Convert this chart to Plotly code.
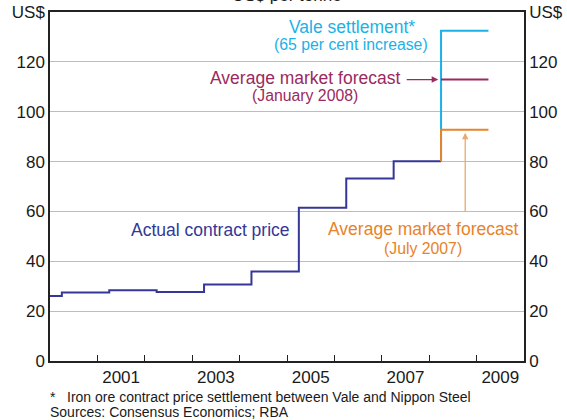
import plotly.graph_objects as go

# contract years start in April (decimal years), prices in US$ per tonne
contract_start = [2000.0, 2000.25, 2001.25, 2002.25, 2003.25, 2004.25, 2005.25, 2006.25, 2007.25, 2008.25]
contract_price = [26.1, 27.5, 28.4, 27.7, 30.7, 35.9, 61.5, 73.2, 80.1, 80.1]

settle_x = [2008.25, 2008.25, 2009.25]
vale_settlement = [80.1, 132.5, 132.5]
forecast_jul07 = [80.1, 92.8, 92.8]
forecast_x = [2008.25, 2009.25]
forecast_jan08 = [112.9, 112.9]

year_labels = [2001, 2003, 2005, 2007, 2009]
year_ticks = list(range(2001, 2010))
y_ticks = [0, 20, 40, 60, 80, 100, 120, 140]
y_text = ["0", "20", "40", "60", "80", "100", "120", "US$"]

BLUE = "#343797"
CYAN = "#1BB1E7"
PURPLE = "#9A2A60"
ORANGE = "#E8832A"
FONT = "Liberation Sans, Arial, sans-serif"
TXT = "#1a1a1a"

fig = go.Figure()

fig.add_trace(go.Scatter(x=contract_start, y=contract_price, mode="lines", line_shape="hv",
                         line=dict(color=BLUE, width=2), showlegend=False, hoverinfo="skip"))
fig.add_trace(go.Scatter(x=settle_x, y=vale_settlement, mode="lines",
                         line=dict(color=CYAN, width=2), showlegend=False, hoverinfo="skip"))
fig.add_trace(go.Scatter(x=forecast_x, y=forecast_jan08, mode="lines",
                         line=dict(color=PURPLE, width=2), showlegend=False, hoverinfo="skip"))
# orange on the right-hand axis so it sits on top of the cyan riser
fig.add_trace(go.Scatter(x=settle_x, y=forecast_jul07, mode="lines", yaxis="y2",
                         line=dict(color=ORANGE, width=2), showlegend=False, hoverinfo="skip"))

fig.update_layout(
    width=567, height=420,
    margin=dict(l=50, r=43, t=12, b=59),
    paper_bgcolor="white", plot_bgcolor="white",
    font=dict(family=FONT, size=17, color=TXT),
    xaxis=dict(range=[2000, 2010], tickvals=[y + 0.5 for y in year_labels],
               ticktext=[str(y) for y in year_labels], ticks="", showgrid=False, automargin=False,
               showline=True, linecolor="#222", linewidth=1.5, mirror=True, zeroline=False,
               minor=dict(tickvals=year_ticks, ticks="inside", ticklen=6, tickwidth=1,
                          tickcolor="#222", showgrid=False)),
    yaxis=dict(range=[0, 140], tickvals=y_ticks, ticktext=y_text, ticks="", automargin=False,
               showgrid=True, gridcolor="#BDBDBD", gridwidth=1, zeroline=False,
               showline=True, linecolor="#222", linewidth=1.5),
    yaxis2=dict(range=[0, 140], overlaying="y", side="right", tickvals=y_ticks, ticktext=y_text,
                ticks="", showgrid=False, zeroline=False, automargin=False,
                showline=True, linecolor="#222", linewidth=1.5),
)

def label(x, y, text, color, size=17.5):
    fig.add_annotation(x=x, y=y, xref="x", yref="y", text=text, showarrow=False,
                       font=dict(family=FONT, size=size, color=color),
                       xanchor="center", yanchor="middle", borderpad=0)

label(2006.37, 133.8, "Vale settlement*", CYAN)
label(2006.36, 127.0, "(65 per cent increase)", CYAN, 15.8)
label(2005.38, 113.6, "Average market forecast", PURPLE)
label(2005.38, 106.7, "(January 2008)", PURPLE, 15.8)
label(2003.38, 52.7, "Actual contract price", BLUE)
label(2007.87, 52.9, "Average market forecast", ORANGE)
label(2007.87, 45.3, "(July 2007)", ORANGE, 15.8)

# arrows
fig.add_annotation(x=2008.19, y=112.9, xref="x", yref="y", text="", showarrow=True,
                   ax=-33, ay=0, arrowhead=2, arrowsize=1, arrowwidth=1.3, arrowcolor=PURPLE)
fig.add_annotation(x=2008.76, y=91.6, xref="x", yref="y", text="", showarrow=True,
                   ax=0, ay=80, arrowhead=2, arrowsize=1, arrowwidth=1.3, arrowcolor="#EBA870")

# unit title, clipped at the top of the page
fig.add_annotation(x=0.5, y=1.0487, xref="paper", yref="paper", text="US$ per tonne",
                   showarrow=False, font=dict(family=FONT, size=17, color=TXT),
                   xanchor="center", yanchor="middle")

# footnotes
fig.add_annotation(x=-0.004, y=-0.103, xref="paper", yref="paper", text="*", showarrow=False,
                   font=dict(family=FONT, size=14, color=TXT), xanchor="left", yanchor="middle")
fig.add_annotation(x=0.032, y=-0.103, xref="paper", yref="paper",
                   text="Iron ore contract price settlement between Vale and Nippon Steel",
                   showarrow=False, font=dict(family=FONT, size=14, color=TXT),
                   xanchor="left", yanchor="middle")
fig.add_annotation(x=-0.004, y=-0.146, xref="paper", yref="paper",
                   text="Sources: Consensus Economics; RBA",
                   showarrow=False, font=dict(family=FONT, size=14, color=TXT),
                   xanchor="left", yanchor="middle")

# drop the default page margin so the chart sits at the window's corner
fig.write_html("out.html", config={"displayModeBar": False},
               post_script="document.body.style.margin = '0';")
